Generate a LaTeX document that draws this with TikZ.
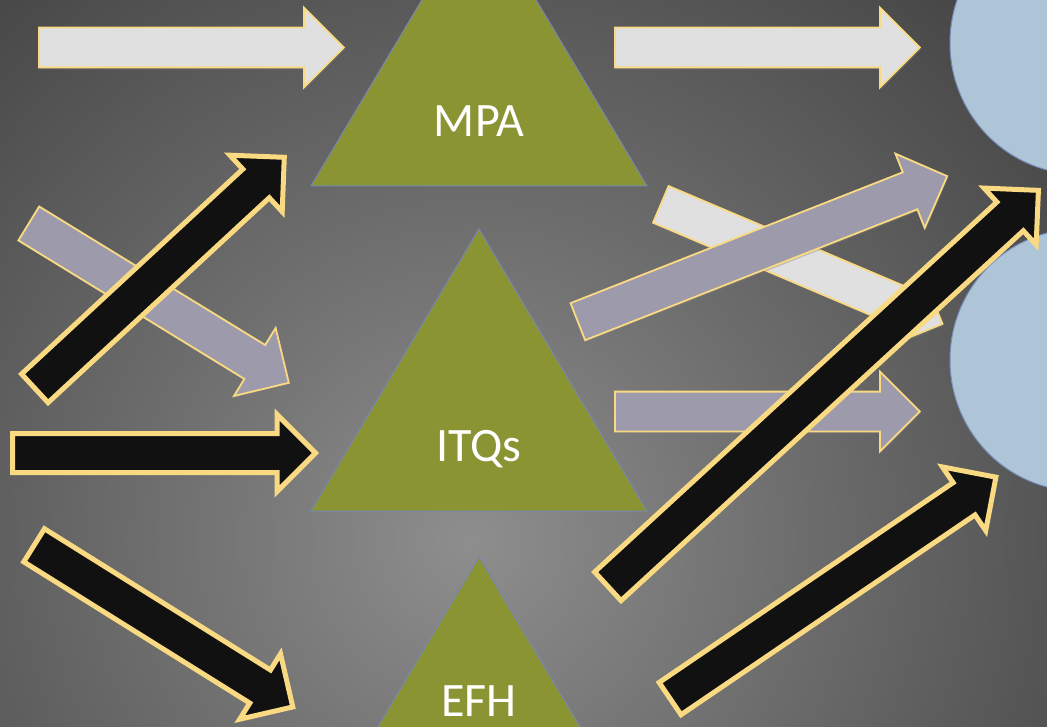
\documentclass[tikz,border=0pt]{standalone}
\usepackage{fontspec}
\setmainfont{Carlito}
\usepackage{tikz}
\usetikzlibrary{shapes.geometric, shapes.arrows, shadows, positioning}
\definecolor{bgdark}{RGB}{64, 64, 64}
\definecolor{bgmid}{RGB}{110, 110, 110}
\definecolor{bglight}{RGB}{142, 142, 142}
\definecolor{olivetri}{RGB}{139, 148, 50}
\definecolor{tririm}{RGB}{118, 136, 178}
\definecolor{poolblue}{RGB}{174, 196, 215}
\definecolor{poolrim}{RGB}{122, 142, 186}
\definecolor{goldrim}{RGB}{249, 218, 130}
\definecolor{paleflow}{RGB}{224, 224, 224}
\definecolor{lavflow}{RGB}{157, 155, 171}
\definecolor{darkflow}{RGB}{17, 17, 17}
\pgfdeclareradialshading{stage}{\pgfpoint{0bp}{0bp}}{color(0bp)=(bglight); color(10bp)=(bgmid); color(25bp)=(bgdark); color(50bp)=(bgdark)}

\begin{document}
\begin{tikzpicture}[
    x=1pt, y=-1pt,
    tri/.style={fill=olivetri, draw=tririm, line width=1pt},
    pool/.style={ellipse, fill=poolblue, draw=poolrim, line width=1pt, inner sep=0pt, minimum width=258pt, minimum height=262pt},
    tag/.style={font=\fontsize{48}{48}\selectfont, text=white, anchor=base},
    flow/.style={single arrow, draw=goldrim, anchor=tail, inner xsep=0pt, inner ysep=19pt,
        single arrow head extend=20pt, single arrow tip angle=90, minimum height=#1,
        drop shadow={shadow xshift=1pt, shadow yshift=-2pt, opacity=0.35}},
    pale/.style={flow=#1, fill=paleflow, line width=1.8pt},
    lav/.style={flow=#1, fill=lavflow, line width=1.8pt},
    dark/.style={flow=#1, fill=darkflow, line width=5pt, inner ysep=17pt, single arrow head extend=19pt}
]
    \useasboundingbox (0,0) rectangle (1047,727);
    \clip (0,0) rectangle (1047,727);
    \fill[bgdark] (0,0) rectangle (1047,727);
    \shade[shading=stage] (470,540) circle (800);

    % Sectors
    \draw[tri] (311,186) -- (647,186) -- (479,-96) -- cycle;
    \draw[tri] (311,511) -- (647,511) -- (479,229) -- cycle;
    \draw[tri] (311,839) -- (647,839) -- (479,557) -- cycle;
    \node[tag] (mpa) at (479,137) {MPA};
    \node[tag] (itq) at (479,461) {ITQs};
    \node[tag] (efh) at (479,716) {EFH};

    % Outcomes
    \node[pool] (upper) at (1079,43) {};
    \node[pool] (lower) at (1079,360) {};

    % Inflows
    \node[pale=305pt] (topin) at (38,47.5) {};
    \node[lav=305pt, rotate=-31.5] (crossin) at (28,223) {};
    \node[dark=340pt, rotate=42.8] (risein) at (33,390) {};
    \node[dark=303pt] (midin) at (10,453) {};
    \node[dark=305pt, rotate=-32] (dropin) at (32,544) {};

    % Outflows
    \node[pale=305pt] (topout) at (614,47.5) {};
    \node[pale=306pt, rotate=-23] (crossout) at (660,204) {};
    \node[lav=397pt, rotate=21.5] (climbout) at (577,322) {};
    \node[lav=305pt] (midout) at (614,411.5) {};
    \node[dark=585pt, rotate=42.6] (longout) at (606,588) {};
    \node[dark=394pt, rotate=34.2] (lowout) at (668,700) {};
\end{tikzpicture}
\end{document}
